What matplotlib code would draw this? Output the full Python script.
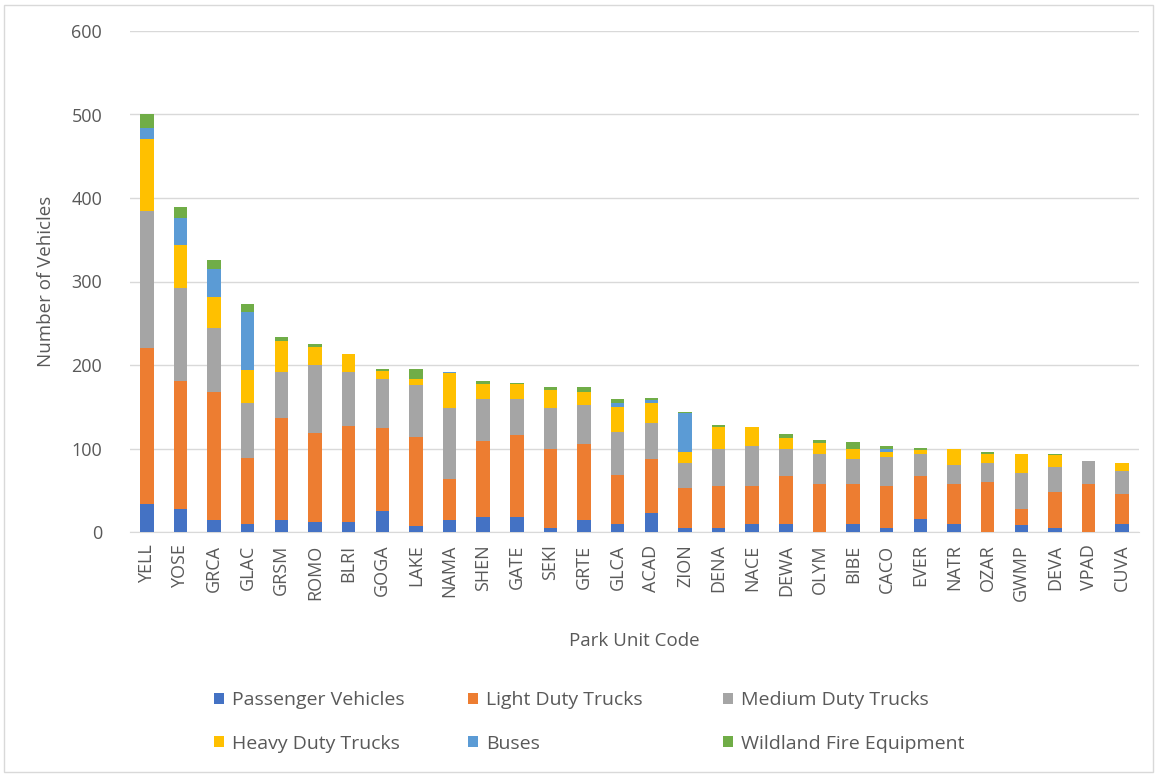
import matplotlib
matplotlib.use("Agg")
import matplotlib.pyplot as plt
from matplotlib.patches import Rectangle, Patch
import numpy as np

parks = ["YELL", "YOSE", "GRCA", "GLAC", "GRSM", "ROMO", "BLRI", "GOGA", "LAKE", "NAMA",
         "SHEN", "GATE", "SEKI", "GRTE", "GLCA", "ACAD", "ZION", "DENA", "NACE", "DEWA",
         "OLYM", "BIBE", "CACO", "EVER", "NATR", "OZAR", "GWMP", "DEVA", "VPAD", "CUVA"]

passenger = [34, 28, 14, 10, 14, 12, 12, 25, 7, 14, 18, 18, 5, 14, 10, 23, 5, 5, 10, 10,
             0, 10, 5, 15, 10, 0, 8, 5, 0, 10]
light = [186, 153, 154, 79, 122, 106, 115, 100, 107, 50, 91, 98, 95, 91, 58, 64, 48, 50, 45, 57,
         58, 48, 50, 52, 48, 60, 20, 43, 58, 36]
medium = [165, 111, 76, 66, 56, 82, 65, 58, 62, 84, 50, 43, 48, 47, 52, 44, 30, 44, 48, 32,
          36, 29, 35, 27, 22, 23, 43, 30, 27, 27]
heavy = [86, 52, 37, 39, 37, 21, 21, 10, 7, 42, 18, 18, 22, 16, 30, 24, 13, 27, 23, 13,
         12, 12, 6, 4, 19, 11, 23, 14, 0, 10]
buses = [13, 32, 34, 70, 0, 0, 0, 0, 0, 2, 0, 0, 0, 0, 4, 3, 46, 0, 0, 0,
         0, 0, 4, 0, 0, 0, 0, 0, 0, 0]
fire = [17, 13, 11, 9, 4, 4, 0, 2, 12, 0, 4, 2, 4, 6, 5, 2, 2, 2, 0, 5,
        4, 9, 3, 3, 0, 2, 0, 2, 0, 0]

series_names = ["Passenger Vehicles", "Light Duty Trucks", "Medium Duty Trucks",
                "Heavy Duty Trucks", "Buses", "Wildland Fire Equipment"]
series_vals = [passenger, light, medium, heavy, buses, fire]
colors = ["#4472C4", "#ED7D31", "#A5A5A5", "#FFC000", "#5B9BD5", "#70AD47"]

plt.rcParams['font.family'] = ['Open Sans', 'DejaVu Sans']
txt = "#595959"

W, H = 1158, 776
fig = plt.figure(figsize=(W / 100, H / 100), dpi=100)
ax = fig.add_axes([130 / W, 1 - 532 / H, (1139 - 130) / W, (532 - 31) / H])

x = np.arange(len(parks))
bottom = np.zeros(len(parks))
for name, vals, c in zip(series_names, series_vals, colors):
    v = np.array(vals, dtype=float)
    ax.bar(x, v, width=0.4, bottom=bottom, color=c, label=name, zorder=3)
    bottom += v

ax.set_xlim(-0.5, len(parks) - 0.5)
ax.set_ylim(0, 600)
ax.set_yticks(np.arange(0, 601, 100))
ax.yaxis.grid(True, color="#d9d9d9", linewidth=1, zorder=0)
ax.set_axisbelow(True)
for s in ["top", "right", "left"]:
    ax.spines[s].set_visible(False)
ax.spines["bottom"].set_color("#d9d9d9")
ax.tick_params(axis="both", length=0, colors=txt, labelsize=13)
ax.tick_params(axis="y", pad=20)
ax.set_xticks(x)
ax.set_xticklabels(parks, rotation=90)
ax.tick_params(axis="x", pad=9)
ax.set_ylabel("Number of Vehicles", color=txt, fontsize=13.5, labelpad=12)
ax.set_xlabel("Park Unit Code", color=txt, fontsize=13.5, labelpad=22)

handles = [Patch(facecolor=c, label=n) for n, c in zip(series_names, colors)]
col_x = [214, 468, 723]
for ci in range(3):
    idx = [ci, ci + 3]
    leg = fig.legend([handles[i] for i in idx], [series_names[i] for i in idx],
                     ncol=1, loc="center left",
                     bbox_to_anchor=(col_x[ci] / W, 1 - 722 / H), frameon=False,
                     fontsize=14, labelcolor=txt, handlelength=0.5, handleheight=0.5,
                     handletextpad=0.45, labelspacing=1.3, borderpad=0, borderaxespad=0)

fig.patches.append(Rectangle((4 / W, 4 / H), 1 - 9 / W, 1 - 9 / H, transform=fig.transFigure,
                             fill=False, edgecolor="#d9d9d9", linewidth=1))

fig.savefig("out.png", dpi=100, facecolor="white")
